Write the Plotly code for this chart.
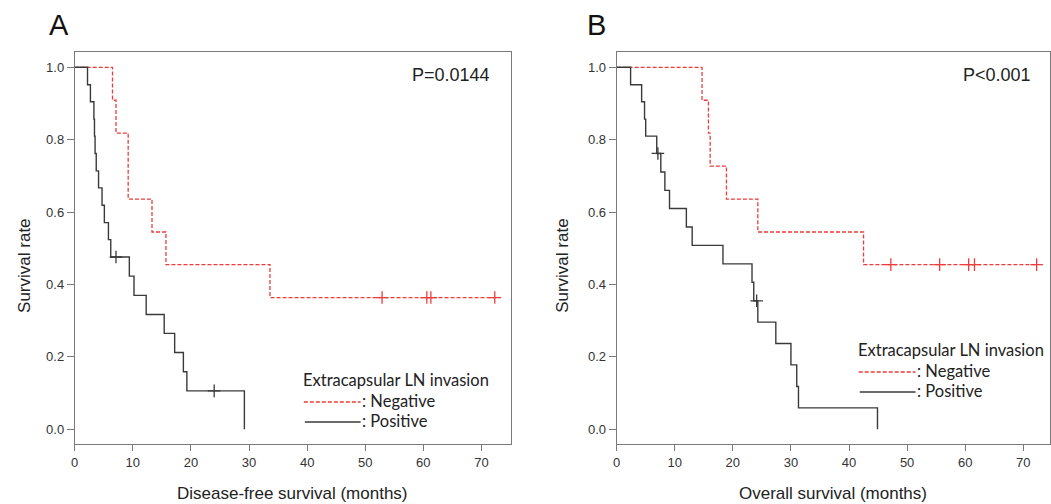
import plotly.graph_objects as go

# ---------------- data ----------------
# Panel A: disease-free survival
a_neg_time = [0, 6.5, 7.1, 9.2, 13.3, 15.7, 33.6, 72.3]
a_neg_surv = [1.0, 0.909, 0.818, 0.636, 0.545, 0.455, 0.364, 0.364]
a_neg_cens_time = [52.9, 60.6, 61.3, 72.3]
a_neg_cens_surv = [0.364, 0.364, 0.364, 0.364]

a_pos_time = [0, 2.2, 2.7, 3.3, 3.4, 3.5, 3.7, 4.1, 4.7, 5.1, 5.8, 6.2,
              9.4, 10.2, 12.3, 15.4, 17.2, 18.7, 19.3, 29.2]
a_pos_surv = [1.0, 0.952, 0.905, 0.857, 0.810, 0.762, 0.714, 0.667, 0.619, 0.571, 0.524, 0.476,
              0.423, 0.370, 0.317, 0.265, 0.212, 0.159, 0.106, 0.0]
a_pos_cens_time = [7.1, 24.0]
a_pos_cens_surv = [0.476, 0.106]

# Panel B: overall survival
b_neg_time = [0, 14.7, 15.8, 16.1, 18.9, 24.3, 42.5, 72.3]
b_neg_surv = [1.0, 0.909, 0.818, 0.727, 0.636, 0.545, 0.455, 0.455]
b_neg_cens_time = [47.2, 55.6, 60.6, 61.6, 72.3]
b_neg_cens_surv = [0.455, 0.455, 0.455, 0.455, 0.455]

b_pos_time = [0, 2.4, 4.3, 4.8, 5.0, 6.9, 7.6, 8.3, 9.1, 12.0, 13.0, 18.3,
              23.3, 23.6, 24.3, 27.4, 30.0, 31.0, 31.3, 44.9]
b_pos_surv = [1.0, 0.952, 0.905, 0.857, 0.810, 0.762, 0.711, 0.660, 0.610, 0.559, 0.508, 0.457,
              0.406, 0.355, 0.296, 0.237, 0.178, 0.118, 0.059, 0.0]
b_pos_cens_time = [7.1, 24.1]
b_pos_cens_surv = [0.762, 0.355]

x_ticks = [0, 10, 20, 30, 40, 50, 60, 70]
y_ticks = [0.0, 0.2, 0.4, 0.6, 0.8, 1.0]
y_tick_text = ["0.0", "0.2", "0.4", "0.6", "0.8", "1.0"]

RED = "#ee3b3b"
BLK = "#3a3a3a"
FRAME = "#7a7a7a"

fig = go.Figure()

def add_panel(xa, ya, neg_t, neg_s, nct, ncs, pos_t, pos_s, pct, pcs):
    fig.add_trace(go.Scatter(x=neg_t, y=neg_s, mode="lines", line_shape="hv",
                             line=dict(color=RED, width=1.3, dash="4px,2px"),
                             xaxis=xa, yaxis=ya, showlegend=False))
    fig.add_trace(go.Scatter(x=nct, y=ncs, mode="markers",
                             marker=dict(symbol="cross-thin", size=9,
                                         line=dict(color=RED, width=1.3)),
                             xaxis=xa, yaxis=ya, showlegend=False))
    fig.add_trace(go.Scatter(x=pos_t, y=pos_s, mode="lines", line_shape="hv",
                             line=dict(color=BLK, width=1.4),
                             xaxis=xa, yaxis=ya, showlegend=False))
    fig.add_trace(go.Scatter(x=pct, y=pcs, mode="markers",
                             marker=dict(symbol="cross-thin", size=9,
                                         line=dict(color=BLK, width=1.3)),
                             xaxis=xa, yaxis=ya, showlegend=False))

add_panel("x", "y", a_neg_time, a_neg_surv, a_neg_cens_time, a_neg_cens_surv,
          a_pos_time, a_pos_surv, a_pos_cens_time, a_pos_cens_surv)
add_panel("x2", "y2", b_neg_time, b_neg_surv, b_neg_cens_time, b_neg_cens_surv,
          b_pos_time, b_pos_surv, b_pos_cens_time, b_pos_cens_surv)

# body margin is removed by the post script, so the figure fills the window
W, H = 1051, 504

def px(x):
    return x / W

def py(y):
    return 1 - y / H

y_dom = [py(444.3), py(52.3)]
tickfont = dict(family="Liberation Sans, Arial", size=13, color="#333333")
xcommon = dict(range=[0, 75.1], tickvals=x_ticks, ticks="outside", ticklen=6,
               tickcolor=FRAME, showline=True, linecolor=FRAME, linewidth=1, mirror=True,
               showgrid=False, zeroline=False, tickfont=tickfont)
ycommon = dict(range=[-0.0415, 1.0415], tickvals=y_ticks, ticktext=y_tick_text,
               ticks="outside", ticklen=7, tickcolor=FRAME, showline=True, linecolor=FRAME,
               linewidth=1, mirror=True, showgrid=False, zeroline=False, tickfont=tickfont,
               domain=y_dom)

fig.update_layout(
    width=W, height=H, margin=dict(l=0, r=0, t=0, b=0),
    paper_bgcolor="white", plot_bgcolor="white",
    xaxis=dict(domain=[px(71), px(509)], anchor="y", **xcommon),
    yaxis=dict(anchor="x", **ycommon),
    xaxis2=dict(domain=[px(615), px(1050)], anchor="y2", **dict(xcommon, range=[0, 74.6])),
    yaxis2=dict(anchor="x2", **ycommon),
)

ann = []
title_font = dict(family="Liberation Sans, Arial", size=17, color="#222222")
legend_font = dict(family="Lato, Open Sans", size=16.5, color="#222222")
panel_font = dict(family="Liberation Sans, Arial", size=29, color="#111111")
p_font = dict(family="Liberation Sans, Arial", size=18, color="#222222")

for label, x0, xt, ptxt, pright, legx, legy in [
    ("A", 43, 290, "P=0.0144", 490, 300, 380),
    ("B", 583, 832, "P<0.001", 1033, 857, 350),
]:
    ann.append(dict(text=label, x=px(x0), y=py(25), xref="paper", yref="paper",
                    xanchor="left", yanchor="middle", showarrow=False, font=panel_font))
    ann.append(dict(text=ptxt, x=px(pright), y=py(75), xref="paper", yref="paper",
                    xanchor="right", yanchor="middle", showarrow=False, font=p_font))
    ann.append(dict(text="Survival rate", x=px(x0 - 23), y=py(266), xref="paper", yref="paper",
                    xanchor="center", yanchor="middle", textangle=-90, showarrow=False,
                    font=title_font))
    ann.append(dict(text="Disease-free survival (months)" if label == "A" else "Overall survival (months)",
                    x=px(xt), y=py(493), xref="paper", yref="paper",
                    xanchor="center", yanchor="middle", showarrow=False, font=title_font))
    ann.append(dict(text="Extracapsular LN invasion", x=px(legx - 2), y=py(legy), xref="paper",
                    yref="paper", xanchor="left", yanchor="middle", showarrow=False, font=legend_font))
    ann.append(dict(text=": Negative", x=px(legx + 57), y=py(legy + 21), xref="paper",
                    yref="paper", xanchor="left", yanchor="middle", showarrow=False, font=legend_font))
    ann.append(dict(text=": Positive", x=px(legx + 57), y=py(legy + 41), xref="paper",
                    yref="paper", xanchor="left", yanchor="middle", showarrow=False, font=legend_font))
    fig.add_shape(type="line", xref="paper", yref="paper",
                  x0=px(legx + 1), x1=px(legx + 58), y0=py(legy + 22), y1=py(legy + 22),
                  line=dict(color=RED, width=1.3, dash="4px,2px"))
    fig.add_shape(type="line", xref="paper", yref="paper",
                  x0=px(legx + 2), x1=px(legx + 58), y0=py(legy + 42), y1=py(legy + 42),
                  line=dict(color=BLK, width=1.4))

fig.update_layout(annotations=ann)
fig.write_html(
    "out.html",
    config={"displayModeBar": False},
    post_script="document.body.style.margin='0';document.body.style.overflow='hidden';",
)
